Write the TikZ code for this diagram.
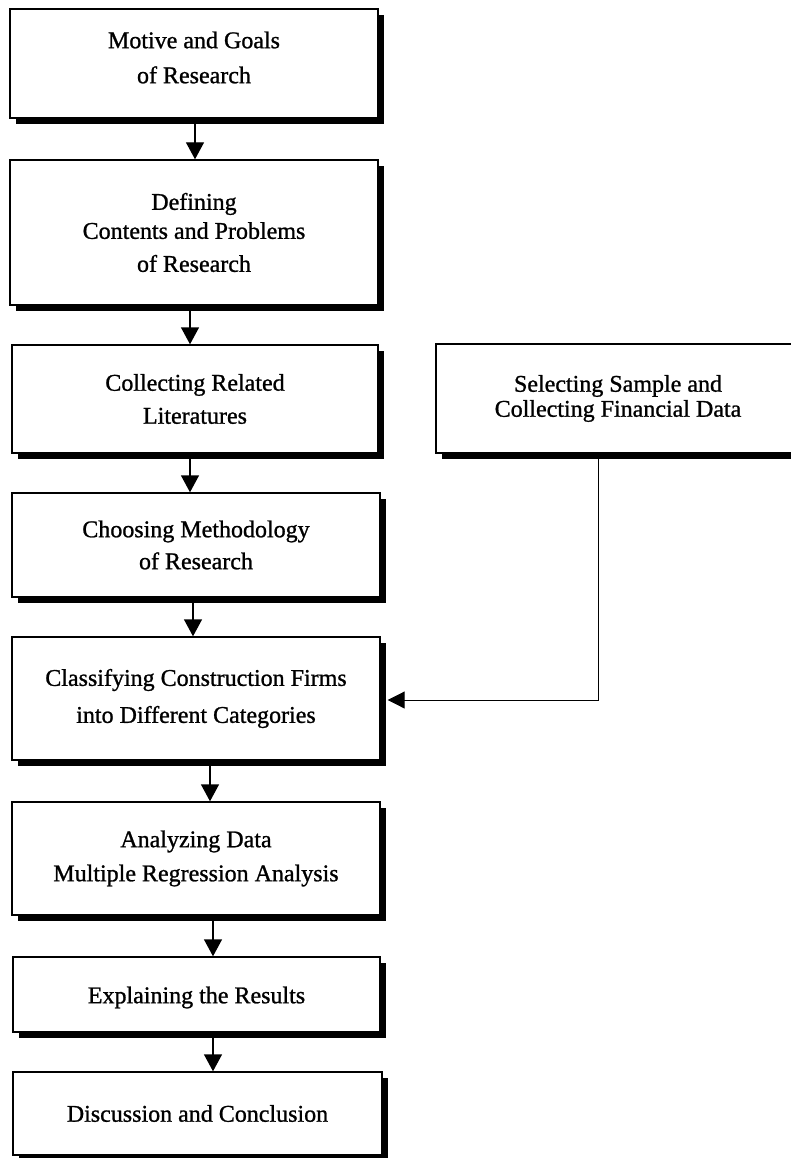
\documentclass[tikz,border=0pt]{standalone}
\usepackage{fontspec}
\setmainfont{Liberation Serif}[FakeBold=1]
\usetikzlibrary{arrows.meta,shadows}

\tikzset{
  box/.style={draw, fill=white, line width=1.4pt, inner sep=0pt, align=center,
    font=\fontsize{24}{29}\selectfont,
    drop shadow={shadow xshift=6pt, shadow yshift=-6pt, fill=black, opacity=1}},
  txt/.style={inner sep=0pt, align=center, font=\fontsize{24}{29}\selectfont},
  flow/.style={line width=1.4pt, -{Triangle[width=18pt,length=17pt]}},
  feed/.style={line width=1pt, -{Triangle[width=17pt,length=17pt]}}
}

\begin{document}
\begin{tikzpicture}[x=1pt,y=-1pt]
\clip (0,0) rectangle (791,1158);
\fill[white] (0,0) rectangle (791,1158);

% main column of steps
\node[box, minimum width=368pt, minimum height=109pt] (motive) at (194,63.5) {};
\node[txt] (motive-t) at ([yshift=6pt]motive.center)
  {Motive and Goals\\[6pt]of Research};
\node[box, minimum width=368pt, minimum height=145pt] (define) at (194,232.5)
  {Defining\\Contents and Problems\\[4pt]of Research};
\node[box, minimum width=366pt, minimum height=108pt] (litr) at (195,399)
  {Collecting Related\\[4pt]Literatures};
\node[box, minimum width=368pt, minimum height=104pt] (method) at (196,545)
  {Choosing Methodology\\[3pt]of Research};
\node[box, minimum width=368pt, minimum height=123pt] (classify) at (196,698.5)
  {Classifying Construction Firms\\[8pt]into Different Categories};
\node[box, minimum width=368pt, minimum height=113pt] (analyze) at (196,858.5)
  {Analyzing Data\\[5pt]Multiple Regression Analysis};
\node[box, minimum width=367pt, minimum height=75pt] (explain) at (196.5,994.5) {};
\node[txt] (explain-t) at ([yshift=-3pt]explain.center) {Explaining the Results};
\node[box, minimum width=369pt, minimum height=83pt] (discuss) at (197.5,1113.5)
  {Discussion and Conclusion};

% data collection branch on the right
\node[box, minimum width=364pt, minimum height=109pt,
  font=\fontsize{24}{25}\selectfont] (sample) at (618,398.5)
  {Selecting Sample and\\Collecting Financial Data};

% connectors
\draw[flow] ([xshift=1pt]motive.south) -- ([xshift=1pt]define.north);
\draw[flow] ([xshift=-4pt]define.south) -- ([xshift=-5pt]litr.north);
\draw[flow] ([xshift=-5pt]litr.south) -- ([xshift=-6pt]method.north);
\draw[flow] ([xshift=-3pt]method.south) -- ([xshift=-3pt]classify.north);
\draw[flow] ([xshift=14pt]classify.south) -- ([xshift=14pt]analyze.north);
\draw[flow] ([xshift=17pt]analyze.south) -- ([xshift=16.5pt]explain.north);
\draw[flow] ([xshift=16.5pt]explain.south) -- ([xshift=15.5pt]discuss.north);

\coordinate (drop) at (598,453);
\draw[feed] (drop) |- ([xshift=7pt,yshift=-1.5pt]classify.east);
\end{tikzpicture}
\end{document}
